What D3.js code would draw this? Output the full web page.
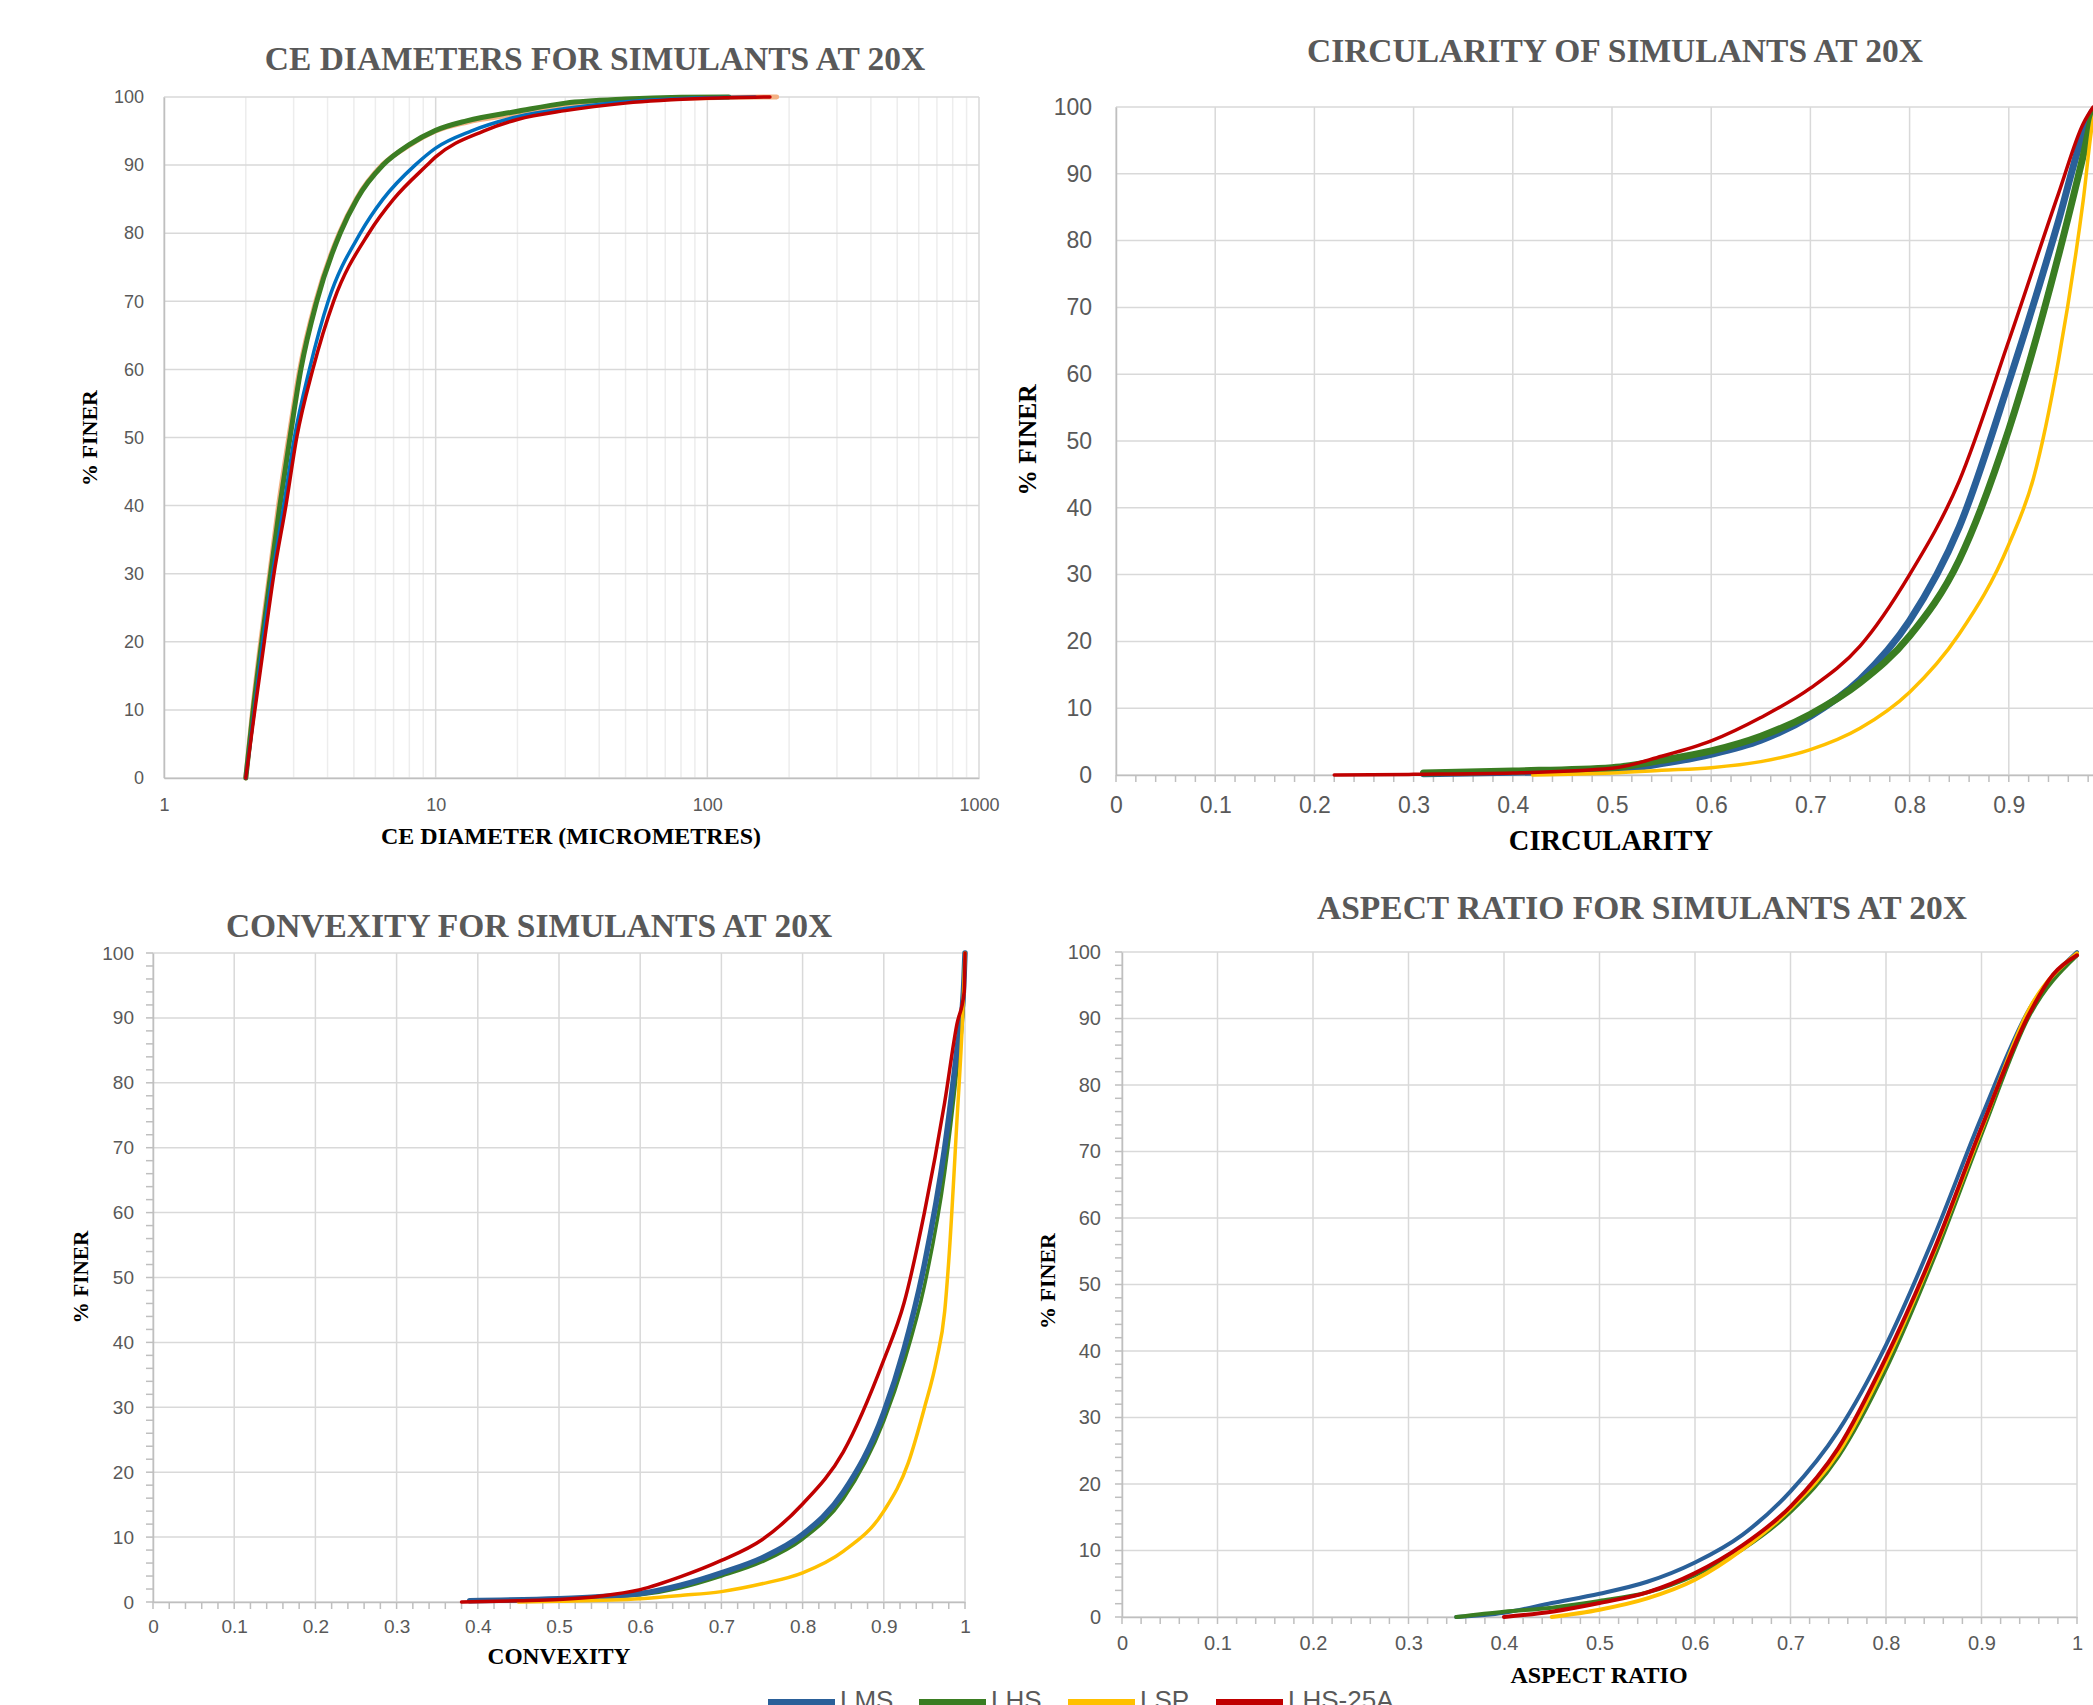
<!DOCTYPE html>
<html>
<head>
<meta charset="utf-8">
<script src="https://cdn.jsdelivr.net/npm/d3@7"></script>
<style>
  body { margin: 0; background: #fff; }
  svg { display: block; }
</style>
</head>
<body>
<svg id="chart" width="2093" height="1705"></svg>
<script>
(function() {
  // ---- data: [x, % finer] ----
  const seriesNames = ['LMS', 'LHS', 'LSP', 'LHS-25A'];

  // CE diameter (micrometres)
  const ceLMS = [[2,0],[2.15,10],[2.31,20],[2.51,30],[2.76,40],[3.02,50],[3.43,60],[4.02,70],[5.28,80],[6.4,85],[8.4,90],[10,92.5],[13.5,95],[20,97.1],[30,98.3],[50,99.3],[100,99.9],[150,100]];
  const ceLHS = [[2,0],[2.13,10],[2.29,20],[2.47,30],[2.67,40],[2.91,50],[3.19,60],[3.65,70],[4.45,80],[5.13,85],[6.4,90],[8,93],[10,95.1],[13,96.5],[20,97.9],[30,99.1],[50,99.7],[80,99.95],[120,100]];
  const ceLSP = [[2,0],[2.12,10],[2.27,20],[2.45,30],[2.64,40],[2.88,50],[3.16,60],[3.62,70],[4.42,80],[5.1,85],[6.35,90],[8,92.9],[10,95],[13,96.3],[20,97.5],[30,98.8],[50,99.5],[100,99.9],[180,100]];
  const ceLHS25A = [[2,0],[2.16,10],[2.34,20],[2.54,30],[2.81,40],[3.08,50],[3.53,60],[4.21,70],[5.67,80],[7,85],[9.3,90],[10,91.2],[15,95],[20,96.7],[30,98],[50,99.1],[100,99.8],[170,100]];

  // circularity
  const circLMS = [[0.31,0.2],[0.4,0.4],[0.5,0.7],[0.55,1.7],[0.6,3.1],[0.65,5.2],[0.7,8.8],[0.75,14.3],[0.8,23.1],[0.85,37.1],[0.9,58.8],[0.95,82.9],[0.975,96],[0.985,99.5],[0.99,100]];
  const circLHS = [[0.31,0.3],[0.4,0.6],[0.5,1.1],[0.55,2.2],[0.6,3.6],[0.65,5.8],[0.7,9.1],[0.75,13.8],[0.8,20.8],[0.85,32.2],[0.9,51.7],[0.95,77.7],[0.975,92.7],[0.985,99],[0.99,100]];
  const circLSP = [[0.42,0],[0.5,0.3],[0.55,0.7],[0.6,1.1],[0.65,2],[0.7,3.8],[0.75,7],[0.8,12.4],[0.85,21.1],[0.9,34.5],[0.925,44.5],[0.95,62],[0.975,86],[0.985,98],[0.99,100]];
  const circLHS25A = [[0.22,0],[0.3,0.1],[0.4,0.3],[0.5,1],[0.55,2.8],[0.6,5.1],[0.65,8.6],[0.7,13],[0.75,19.3],[0.8,30],[0.85,44],[0.9,65],[0.95,87],[0.975,97.5],[0.985,100]];

  // convexity
  const convLMS = [[0.39,0.2],[0.5,0.5],[0.55,0.8],[0.6,1.3],[0.65,2.6],[0.7,4.5],[0.75,6.8],[0.8,10.4],[0.85,16.9],[0.9,29.2],[0.925,39],[0.95,52],[0.975,70],[0.99,85],[0.998,94],[1,100]];
  const convLHS = [[0.39,0.1],[0.5,0.4],[0.55,0.7],[0.6,1.1],[0.65,2.2],[0.7,4],[0.75,6.2],[0.8,9.7],[0.85,15.9],[0.9,27.9],[0.925,37],[0.95,48.7],[0.975,66.2],[0.99,82],[0.998,92],[1,100]];
  const convLSP = [[0.45,0],[0.5,0.1],[0.6,0.5],[0.65,1],[0.7,1.6],[0.75,2.8],[0.8,4.5],[0.85,7.8],[0.9,14],[0.93,21.4],[0.95,29.9],[0.965,37.3],[0.975,44.8],[0.98,52.6],[0.99,74],[0.997,90],[1,100]];
  const convLHS25A = [[0.38,0],[0.45,0.2],[0.5,0.4],[0.55,0.9],[0.6,1.9],[0.65,3.9],[0.7,6.4],[0.75,9.6],[0.8,15.1],[0.85,23.1],[0.9,37.3],[0.925,46.1],[0.95,60],[0.975,77],[0.99,89],[0.999,94],[1,100]];

  // aspect ratio
  const arLMS = [[0.35,0],[0.4,0.65],[0.45,2.1],[0.5,3.5],[0.55,5.3],[0.6,8.2],[0.65,12.4],[0.7,18.9],[0.75,28],[0.8,40.9],[0.85,57.1],[0.9,75.2],[0.95,91.4],[1,100]];
  const arLHS = [[0.35,0],[0.4,0.8],[0.45,1.4],[0.5,2.4],[0.55,3.7],[0.6,6.3],[0.65,10.2],[0.7,15.8],[0.75,24.1],[0.8,37.3],[0.85,53.9],[0.9,72.6],[0.95,90.4],[1,99.5]];
  const arLSP = [[0.45,0],[0.5,1.1],[0.55,2.8],[0.6,5.6],[0.65,10.2],[0.7,16.3],[0.75,24.7],[0.8,38.3],[0.85,54.8],[0.9,73.3],[0.95,91.4],[1,99.8]];
  const arLHS25A = [[0.4,0],[0.45,0.8],[0.5,2.1],[0.55,3.7],[0.6,6.6],[0.65,10.8],[0.7,16.6],[0.75,25.4],[0.8,39],[0.85,55.1],[0.9,73.6],[0.95,90.7],[0.975,96.6],[1,99.5]];

  const yTicks = [0, 10, 20, 30, 40, 50, 60, 70, 80, 90, 100];
  const logTicks = [1, 10, 100, 1000];
  const fracTicks = [0, 0.1, 0.2, 0.3, 0.4, 0.5, 0.6, 0.7, 0.8, 0.9, 1];

  // ---- styling ----
  const svg = d3.select('#chart');
  const sans = '"Liberation Sans", Arial, sans-serif';
  const serif = '"Liberation Serif", "Times New Roman", serif';
  const grey = '#595959';

  const colorsA = {'LMS': '#0070C0', 'LHS': '#3B7D23', 'LSP': '#F4B183', 'LHS-25A': '#C00000'};
  const colorsB = {'LMS': '#2A6099', 'LHS': '#3A7D22', 'LSP': '#FFC000', 'LHS-25A': '#C00000'};

  const panels = [
    {
      title: 'CE DIAMETERS FOR SIMULANTS AT 20X', titleX: 595, titleY: 59,
      xTitle: 'CE DIAMETER (MICROMETRES)', xTitleX: 571, xTitleY: 836.5, xTitleSize: 24,
      yTitleX: 90, yTitleY: 438, yTitleSize: 22,
      left: 164, right: 979, top: 97, bottom: 778,
      log: true, xDomain: [1, 1000], xTicks: logTicks, fmt: d3.format('d'),
      tickSize: 18, xPad: 20.7, yPad: 20,
      minorX: false, minorY: false,
      colors: colorsA,
      order: ['LSP', 'LHS', 'LMS', 'LHS-25A'],
      widths: {'LMS': 3.5, 'LHS': 5, 'LSP': 5, 'LHS-25A': 3.5},
      data: {'LMS': ceLMS, 'LHS': ceLHS, 'LSP': ceLSP, 'LHS-25A': ceLHS25A}
    },
    {
      title: 'CIRCULARITY OF SIMULANTS AT 20X', titleX: 1615, titleY: 50.5,
      xTitle: 'CIRCULARITY', xTitleX: 1611, xTitleY: 841, xTitleSize: 28.5,
      yTitleX: 1028, yTitleY: 440, yTitleSize: 25.5,
      left: 1116, right: 2108, top: 107, bottom: 775,
      log: false, xDomain: [0, 1], xTicks: fracTicks, fmt: d3.format(''),
      tickSize: 23, xPad: 21.9, yPad: 24,
      minorX: true, minorY: false,
      colors: colorsB,
      order: ['LMS', 'LHS', 'LSP', 'LHS-25A'],
      widths: {'LMS': 7, 'LHS': 7, 'LSP': 3.5, 'LHS-25A': 3.5},
      data: {'LMS': circLMS, 'LHS': circLHS, 'LSP': circLSP, 'LHS-25A': circLHS25A}
    },
    {
      title: 'CONVEXITY FOR SIMULANTS AT 20X', titleX: 529, titleY: 926,
      xTitle: 'CONVEXITY', xTitleX: 559, xTitleY: 1656.5, xTitleSize: 23.4,
      yTitleX: 81, yTitleY: 1277, yTitleSize: 21.3,
      left: 153, right: 965, top: 953, bottom: 1602,
      log: false, xDomain: [0, 1], xTicks: fracTicks, fmt: d3.format(''),
      tickSize: 19, xPad: 17.3, yPad: 19,
      minorX: true, minorY: true,
      colors: colorsB,
      order: ['LHS', 'LMS', 'LSP', 'LHS-25A'],
      widths: {'LMS': 5.5, 'LHS': 3.5, 'LSP': 3.5, 'LHS-25A': 3.5},
      data: {'LMS': convLMS, 'LHS': convLHS, 'LSP': convLSP, 'LHS-25A': convLHS25A}
    },
    {
      title: 'ASPECT RATIO FOR SIMULANTS AT 20X', titleX: 1642, titleY: 907.5,
      xTitle: 'ASPECT RATIO', xTitleX: 1599, xTitleY: 1675.4, xTitleSize: 24,
      yTitleX: 1048, yTitleY: 1281, yTitleSize: 22,
      left: 1122, right: 2077, top: 952, bottom: 1617,
      log: false, xDomain: [0, 1], xTicks: fracTicks, fmt: d3.format(''),
      tickSize: 20, xPad: 18.5, yPad: 21,
      minorX: true, minorY: true,
      colors: colorsB,
      order: ['LMS', 'LHS', 'LSP', 'LHS-25A'],
      widths: {'LMS': 4, 'LHS': 4, 'LSP': 4, 'LHS-25A': 4},
      data: {'LMS': arLMS, 'LHS': arLHS, 'LSP': arLSP, 'LHS-25A': arLHS25A}
    }
  ];

  panels.forEach(drawPanel);

  function drawPanel(p) {
    let g = svg.append('g');
    let x = (p.log ? d3.scaleLog() : d3.scaleLinear())
      .domain(p.xDomain).range([p.left, p.right]);
    let y = d3.scaleLinear().domain([0, 100]).range([p.bottom, p.top]);

    // minor log gridlines
    if (p.log) {
      let minor = [];
      [1, 10, 100].forEach(function(dec) {
        for (let k = 2; k < 10; k++) minor.push(dec * k);
      });
      g.append('g').selectAll('line').data(minor).enter().append('line')
        .attr('x1', function(d) { return x(d); })
        .attr('x2', function(d) { return x(d); })
        .attr('y1', p.top).attr('y2', p.bottom)
        .attr('stroke', '#ededed').attr('stroke-width', 1.5);
    }

    // major gridlines
    g.append('g').selectAll('line').data(p.xTicks).enter().append('line')
      .attr('x1', function(d) { return x(d); })
      .attr('x2', function(d) { return x(d); })
      .attr('y1', p.top).attr('y2', p.bottom)
      .attr('stroke', '#d9d9d9').attr('stroke-width', 1.5);
    g.append('g').selectAll('line').data(yTicks).enter().append('line')
      .attr('x1', p.left).attr('x2', p.right)
      .attr('y1', function(d) { return y(d); })
      .attr('y2', function(d) { return y(d); })
      .attr('stroke', '#d9d9d9').attr('stroke-width', 1.5);

    // minor tick marks
    if (p.minorX) {
      let mx = d3.range(0, 51).map(function(i) { return i * 0.02; });
      g.append('g').selectAll('line').data(mx).enter().append('line')
        .attr('x1', function(d) { return x(d); })
        .attr('x2', function(d) { return x(d); })
        .attr('y1', p.bottom).attr('y2', p.bottom + 7)
        .attr('stroke', '#bfbfbf').attr('stroke-width', 1.5);
    }
    if (p.minorY) {
      let my = d3.range(0, 51).map(function(i) { return i * 2; });
      g.append('g').selectAll('line').data(my).enter().append('line')
        .attr('x1', p.left - 7).attr('x2', p.left)
        .attr('y1', function(d) { return y(d); })
        .attr('y2', function(d) { return y(d); })
        .attr('stroke', '#bfbfbf').attr('stroke-width', 1.5);
    }

    // axes
    let xAxis = g.append('g')
      .attr('transform', 'translate(0,' + p.bottom + ')')
      .call(d3.axisBottom(x).tickValues(p.xTicks).tickFormat(p.fmt)
        .tickSize(0).tickPadding(p.xPad));
    let yAxis = g.append('g')
      .attr('transform', 'translate(' + p.left + ',0)')
      .call(d3.axisLeft(y).tickValues(yTicks).tickSize(0).tickPadding(p.yPad));
    [xAxis, yAxis].forEach(function(a) {
      a.select('.domain').attr('stroke', '#bfbfbf').attr('stroke-width', 1.5);
      a.selectAll('text')
        .attr('fill', grey)
        .style('font-family', sans)
        .style('font-size', p.tickSize + 'px');
    });

    // series
    let line = d3.line()
      .x(function(d) { return x(d[0]); })
      .y(function(d) { return y(d[1]); })
      .curve(d3.curveMonotoneX);
    g.append('g').selectAll('path').data(p.order).enter().append('path')
      .attr('d', function(name) { return line(p.data[name]); })
      .attr('fill', 'none')
      .attr('stroke', function(name) { return p.colors[name]; })
      .attr('stroke-width', function(name) { return p.widths[name]; })
      .attr('stroke-linejoin', 'round')
      .attr('stroke-linecap', 'round');

    // titles
    g.append('text')
      .attr('x', p.titleX).attr('y', p.titleY + 0.331 * 33.5)
      .attr('text-anchor', 'middle')
      .attr('fill', grey)
      .style('font-family', serif).style('font-weight', 'bold')
      .style('font-size', '33.5px')
      .text(p.title);
    g.append('text')
      .attr('x', p.xTitleX).attr('y', p.xTitleY + 0.331 * p.xTitleSize)
      .attr('text-anchor', 'middle')
      .attr('fill', '#000')
      .style('font-family', serif).style('font-weight', 'bold')
      .style('font-size', p.xTitleSize + 'px')
      .text(p.xTitle);
    g.append('text')
      .attr('transform', 'translate(' + (p.yTitleX + 0.331 * p.yTitleSize) + ',' + p.yTitleY + ') rotate(-90)')
      .attr('text-anchor', 'middle')
      .attr('fill', '#000')
      .style('font-family', serif).style('font-weight', 'bold')
      .style('font-size', p.yTitleSize + 'px')
      .text('% FINER');
  }

  // legend (cut off by the bottom edge in the reference)
  let legendX = [768, 919, 1068, 1216];
  let legend = svg.append('g').selectAll('g').data(seriesNames).enter().append('g')
    .attr('transform', function(d, i) { return 'translate(' + legendX[i] + ',0)'; });
  legend.append('line')
    .attr('x1', 0).attr('x2', 67)
    .attr('y1', 1703).attr('y2', 1703)
    .attr('stroke', function(d) { return colorsB[d]; })
    .attr('stroke-width', 8);
  legend.append('text')
    .attr('x', 72).attr('y', 1709)
    .attr('fill', grey)
    .style('font-family', sans)
    .style('font-size', '26px')
    .text(function(d) { return d; });
})();
</script>
</body>
</html>
